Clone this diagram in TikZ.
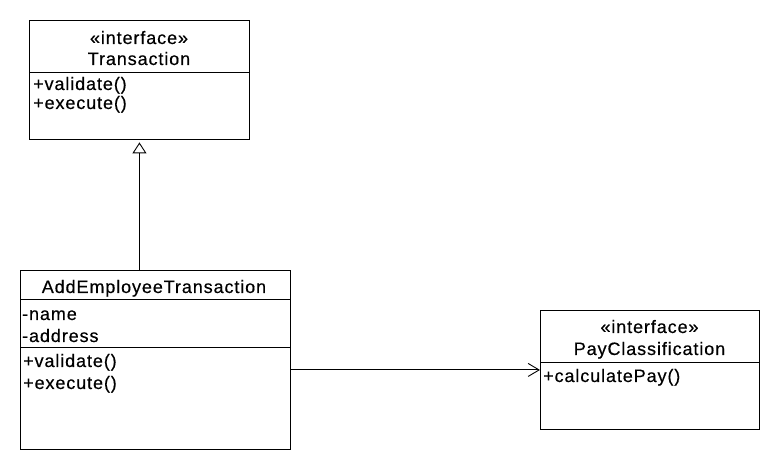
\documentclass[tikz,border=0pt]{standalone}
\usepackage{fontspec}
\setmainfont{Liberation Sans}[LetterSpace=5, FakeBold=0.4]
\usetikzlibrary{arrows.meta}
\begin{document}
\begin{tikzpicture}[x=1pt,y=-1pt,
  cls/.style={draw, line width=0.9pt, inner sep=0pt, anchor=north west},
  sep/.style={line width=0.9pt},
  txt/.style={inner sep=0pt, font=\fontsize{18}{20}\selectfont},
  mem/.style={txt, anchor=base west},
  ttl/.style={txt, anchor=base},
  conn/.style={line width=0.9pt}]
\useasboundingbox (0,0) rectangle (780,470);
\fill[white] (0,0) rectangle (780,470);
% Transaction
\node[cls, minimum width=220pt, minimum height=119pt] (tr) at (29,20) {};
\draw[sep] (29,72) -- (249,72);
\node[ttl] (tr1) at (139,44) {«interface»};
\node[ttl] (tr2) at (139,65) {Transaction};
\node[mem] (tr3) at (33,90) {+validate()};
\node[mem] (tr4) at (33,109) {+execute()};
% AddEmployeeTransaction
\node[cls, minimum width=270pt, minimum height=179pt] (aet) at (20,270) {};
\draw[sep] (20,299) -- (290,299);
\draw[sep] (20,347) -- (290,347);
\node[ttl] (a1) at (154,293) {AddEmployeeTransaction};
\node[mem] (a2) at (22,320) {-name};
\node[mem] (a3) at (22,342) {-address};
\node[mem] (a4) at (23,367) {+validate()};
\node[mem] (a5) at (23,389) {+execute()};
% PayClassification
\node[cls, minimum width=219pt, minimum height=119pt] (pc) at (540,310) {};
\draw[sep] (540,362) -- (759,362);
\node[ttl] (p1) at (649.5,333) {«interface»};
\node[ttl] (p2) at (649.5,355) {PayClassification};
\node[mem] (p3) at (543,382) {+calculatePay()};
% connectors
\draw[conn, -{Triangle[open, length=11pt, width=14pt, line width=0.9pt]}, shorten >=2.5pt]
  (tr.south |- aet.north) -- (tr.south);
\draw[conn, -{Straight Barb[length=11pt, width=13pt, line width=0.9pt]}]
  (aet.east |- pc.west) -- (pc.west);
\end{tikzpicture}
\end{document}
